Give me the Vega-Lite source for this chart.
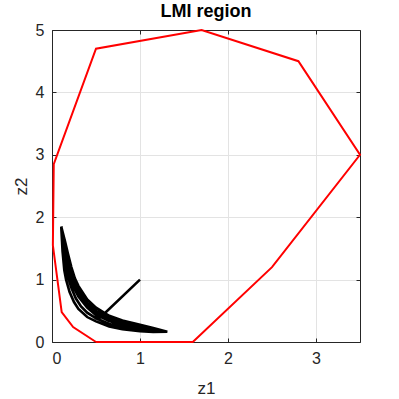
{
  "$schema": "https://vega.github.io/schema/vega-lite/v6.json",
  "autosize": "none",
  "width": 308,
  "height": 312,
  "padding": {"left": 52, "top": 30, "right": 39, "bottom": 57},
  "background": "white",
  "config": {
    "view": {"stroke": null},
    "font": "Liberation Sans",
    "axis": {
      "labelFont": "Liberation Sans",
      "titleFont": "Liberation Sans",
      "labelFontSize": 16,
      "titleFontSize": 17,
      "titleFontWeight": "normal",
      "labelColor": "#262626",
      "titleColor": "#262626",
      "domainColor": "#262626",
      "tickColor": "#262626",
      "gridColor": "#e3e3e3",
      "domainWidth": 1,
      "tickWidth": 1
    }
  },
  "title": {"text": "LMI region", "font": "Liberation Sans", "fontSize": 18, "fontWeight": "bold", "color": "#000000", "offset": 1},
  "datasets": {
    "d": [
      {"s": "region", "i": 0, "z1": 0.5, "z2": 0},
      {"s": "region", "i": 1, "z1": 1.6, "z2": 0},
      {"s": "region", "i": 2, "z1": 2.5, "z2": 1.2},
      {"s": "region", "i": 3, "z1": 3.5, "z2": 3.0},
      {"s": "region", "i": 4, "z1": 2.8, "z2": 4.5},
      {"s": "region", "i": 5, "z1": 1.7, "z2": 5.0},
      {"s": "region", "i": 6, "z1": 0.5, "z2": 4.7},
      {"s": "region", "i": 7, "z1": 0.02, "z2": 2.85},
      {"s": "region", "i": 8, "z1": 0.01, "z2": 1.55},
      {"s": "region", "i": 9, "z1": 0.11, "z2": 0.48},
      {"s": "region", "i": 10, "z1": 0.24, "z2": 0.24},
      {"s": "region", "i": 11, "z1": 0.5, "z2": 0},

      {"s": "traj", "i": 0, "z1": 1.0, "z2": 1.0},
      {"s": "traj", "i": 1, "z1": 0.54, "z2": 0.38},
      {"s": "traj", "i": 2, "z1": 0.4, "z2": 0.55},
      {"s": "traj", "i": 3, "z1": 0.3, "z2": 0.73},
      {"s": "traj", "i": 4, "z1": 0.25, "z2": 0.87},
      {"s": "traj", "i": 5, "z1": 0.2, "z2": 1.08},
      {"s": "traj", "i": 6, "z1": 0.16, "z2": 1.3},
      {"s": "traj", "i": 7, "z1": 0.13, "z2": 1.6},
      {"s": "traj", "i": 8, "z1": 0.105, "z2": 1.85},

      {"s": "traj", "i": 9, "z1": 0.15, "z2": 1.6},
      {"s": "traj", "i": 10, "z1": 0.18, "z2": 1.42},
      {"s": "traj", "i": 11, "z1": 0.22, "z2": 1.2},
      {"s": "traj", "i": 12, "z1": 0.26, "z2": 1.02},
      {"s": "traj", "i": 13, "z1": 0.3, "z2": 0.9},
      {"s": "traj", "i": 14, "z1": 0.4, "z2": 0.68},
      {"s": "traj", "i": 15, "z1": 0.5, "z2": 0.55},
      {"s": "traj", "i": 16, "z1": 0.65, "z2": 0.42},
      {"s": "traj", "i": 17, "z1": 0.8, "z2": 0.345},
      {"s": "traj", "i": 18, "z1": 1.0, "z2": 0.275},
      {"s": "traj", "i": 19, "z1": 1.15, "z2": 0.225},
      {"s": "traj", "i": 20, "z1": 1.31, "z2": 0.165},

      {"s": "traj", "i": 21, "z1": 1.15, "z2": 0.16},
      {"s": "traj", "i": 22, "z1": 1.0, "z2": 0.175},
      {"s": "traj", "i": 23, "z1": 0.8, "z2": 0.205},
      {"s": "traj", "i": 24, "z1": 0.65, "z2": 0.25},
      {"s": "traj", "i": 25, "z1": 0.5, "z2": 0.33},
      {"s": "traj", "i": 26, "z1": 0.4, "z2": 0.4},
      {"s": "traj", "i": 27, "z1": 0.3, "z2": 0.53},
      {"s": "traj", "i": 28, "z1": 0.25, "z2": 0.64},
      {"s": "traj", "i": 29, "z1": 0.2, "z2": 0.8},
      {"s": "traj", "i": 30, "z1": 0.16, "z2": 1.0},
      {"s": "traj", "i": 31, "z1": 0.14, "z2": 1.15},
      {"s": "traj", "i": 32, "z1": 0.12, "z2": 1.45},
      {"s": "traj", "i": 33, "z1": 0.105, "z2": 1.85},

      {"s": "traj", "i": 34, "z1": 0.14, "z2": 1.6},
      {"s": "traj", "i": 35, "z1": 0.17, "z2": 1.4},
      {"s": "traj", "i": 36, "z1": 0.2, "z2": 1.2},
      {"s": "traj", "i": 37, "z1": 0.25, "z2": 0.98},
      {"s": "traj", "i": 38, "z1": 0.3, "z2": 0.82},
      {"s": "traj", "i": 39, "z1": 0.4, "z2": 0.62},
      {"s": "traj", "i": 40, "z1": 0.5, "z2": 0.5},
      {"s": "traj", "i": 41, "z1": 0.65, "z2": 0.38},
      {"s": "traj", "i": 42, "z1": 0.8, "z2": 0.31},
      {"s": "traj", "i": 43, "z1": 1.0, "z2": 0.245},
      {"s": "traj", "i": 44, "z1": 1.15, "z2": 0.205},
      {"s": "traj", "i": 45, "z1": 1.31, "z2": 0.165},

      {"s": "traj", "i": 46, "z1": 1.15, "z2": 0.19},
      {"s": "traj", "i": 47, "z1": 1.0, "z2": 0.22},
      {"s": "traj", "i": 48, "z1": 0.8, "z2": 0.27},
      {"s": "traj", "i": 49, "z1": 0.65, "z2": 0.335},
      {"s": "traj", "i": 50, "z1": 0.5, "z2": 0.44},
      {"s": "traj", "i": 51, "z1": 0.4, "z2": 0.55},
      {"s": "traj", "i": 52, "z1": 0.3, "z2": 0.73},
      {"s": "traj", "i": 53, "z1": 0.25, "z2": 0.87},
      {"s": "traj", "i": 54, "z1": 0.2, "z2": 1.08},
      {"s": "traj", "i": 55, "z1": 0.16, "z2": 1.3},
      {"s": "traj", "i": 56, "z1": 0.13, "z2": 1.6},
      {"s": "traj", "i": 57, "z1": 0.105, "z2": 1.85},

      {"s": "traj", "i": 58, "z1": 0.135, "z2": 1.6},
      {"s": "traj", "i": 59, "z1": 0.165, "z2": 1.35},
      {"s": "traj", "i": 60, "z1": 0.2, "z2": 1.14},
      {"s": "traj", "i": 61, "z1": 0.25, "z2": 0.92},
      {"s": "traj", "i": 62, "z1": 0.3, "z2": 0.78},
      {"s": "traj", "i": 63, "z1": 0.4, "z2": 0.585},
      {"s": "traj", "i": 64, "z1": 0.5, "z2": 0.47},
      {"s": "traj", "i": 65, "z1": 0.65, "z2": 0.36},
      {"s": "traj", "i": 66, "z1": 0.8, "z2": 0.29},
      {"s": "traj", "i": 67, "z1": 1.0, "z2": 0.23},
      {"s": "traj", "i": 68, "z1": 1.15, "z2": 0.2},
      {"s": "traj", "i": 69, "z1": 1.31, "z2": 0.163},

      {"s": "traj", "i": 70, "z1": 1.15, "z2": 0.175},
      {"s": "traj", "i": 71, "z1": 1.0, "z2": 0.195},
      {"s": "traj", "i": 72, "z1": 0.8, "z2": 0.235},
      {"s": "traj", "i": 73, "z1": 0.65, "z2": 0.29},
      {"s": "traj", "i": 74, "z1": 0.5, "z2": 0.38},
      {"s": "traj", "i": 75, "z1": 0.4, "z2": 0.47},
      {"s": "traj", "i": 76, "z1": 0.33, "z2": 0.57},
      {"s": "traj", "i": 77, "z1": 0.27, "z2": 0.7},
      {"s": "traj", "i": 78, "z1": 0.22, "z2": 0.87},
      {"s": "traj", "i": 79, "z1": 0.18, "z2": 1.05},
      {"s": "traj", "i": 80, "z1": 0.15, "z2": 1.25},
      {"s": "traj", "i": 81, "z1": 0.125, "z2": 1.55},
      {"s": "traj", "i": 82, "z1": 0.105, "z2": 1.85}
    ]
  },
  "data": {"name": "d"},
  "layer": [
    {
      "transform": [{"filter": "datum.s === 'region'"}],
      "mark": {"type": "line", "color": "#ff0000", "strokeWidth": 2},
      "encoding": {
        "x": {"field": "z1", "type": "quantitative", "scale": {"domain": [0, 3.5], "nice": false},
              "axis": {"title": "z1", "values": [0, 1, 2, 3], "tickSize": -4, "labelPadding": 12, "titlePadding": 14, "grid": true, "format": "d"}},
        "y": {"field": "z2", "type": "quantitative", "scale": {"domain": [0, 5], "nice": false},
              "axis": {"title": "z2", "values": [0, 1, 2, 3, 4, 5], "tickSize": -4, "labelPadding": 12, "titlePadding": 5, "grid": true, "format": "d"}},
        "order": {"field": "i", "type": "quantitative"}
      }
    },
    {
      "transform": [{"filter": "datum.s === 'traj'"}],
      "mark": {"type": "line", "color": "#000000", "strokeWidth": 2.6},
      "encoding": {
        "x": {"field": "z1", "type": "quantitative",
              "axis": {"orient": "top", "title": null, "labels": false, "values": [0, 1, 2, 3], "tickSize": -4, "grid": false}},
        "y": {"field": "z2", "type": "quantitative",
              "axis": {"orient": "right", "title": null, "labels": false, "values": [0, 1, 2, 3, 4, 5], "tickSize": -4, "grid": false}},
        "order": {"field": "i", "type": "quantitative"}
      }
    }
  ],
  "resolve": {"axis": {"x": "independent", "y": "independent"}}
}
